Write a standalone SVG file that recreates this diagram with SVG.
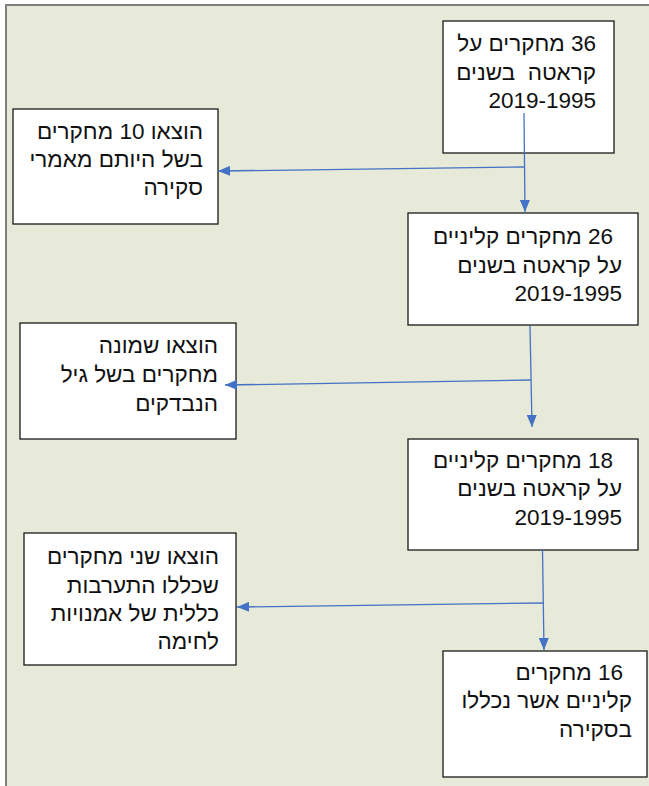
<svg xmlns="http://www.w3.org/2000/svg" width="649" height="786" viewBox="0 0 649 786">
<style>
.box{fill:#ffffff;stroke:#1a1a1a;stroke-width:1.3}
.t{font-family:"Liberation Sans",Arial,sans-serif;font-size:22.5px;fill:#111111;direction:rtl;text-anchor:start}
.c{stroke:#4472C4;stroke-width:1.3;fill:none}
</style>
<defs>
<marker id="ah" viewBox="0 0 12 10" refX="12" refY="5" markerWidth="12" markerHeight="10" markerUnits="userSpaceOnUse" orient="auto">
<path d="M0,0 L12,5 L0,10 Z" fill="#4472C4"/>
</marker>
</defs>
<rect x="0" y="0" width="649" height="786" fill="#ffffff"/>
<rect x="6" y="5" width="650" height="790" fill="#E7E9D9" stroke="#7f7f7f" stroke-width="2"/>

<g id="n1">
<rect class="box" x="443" y="21" width="171" height="132"/>
<text class="t" x="596" y="51">36 מחקרים על</text>
<text class="t" x="596" y="80" style="white-space:pre">קראטה  בשנים</text>
<text class="t" x="596" y="108">2019-1995</text>
</g>
<g id="n2">
<rect class="box" x="408" y="213" width="230" height="112"/>
<text class="t" x="613" y="244">26 מחקרים קליניים</text>
<text class="t" x="622" y="273">על קראטה בשנים</text>
<text class="t" x="622" y="301">2019-1995</text>
</g>
<g id="n3">
<rect class="box" x="13" y="109" width="205" height="115"/>
<text class="t" x="203" y="139">הוצאו 10 מחקרים</text>
<text class="t" x="203" y="167">בשל היותם מאמרי</text>
<text class="t" x="203" y="195">סקירה</text>
</g>
<g id="n4">
<rect class="box" x="20" y="323" width="216" height="116"/>
<text class="t" x="218" y="353">הוצאו שמונה</text>
<text class="t" x="218" y="382">מחקרים בשל גיל</text>
<text class="t" x="218" y="411">הנבדקים</text>
</g>
<g id="n5">
<rect class="box" x="408" y="439" width="230" height="111"/>
<text class="t" x="613" y="468">18 מחקרים קליניים</text>
<text class="t" x="622" y="496">על קראטה בשנים</text>
<text class="t" x="622" y="525">2019-1995</text>
</g>
<g id="n6">
<rect class="box" x="24" y="533" width="212" height="132"/>
<text class="t" x="219" y="564">הוצאו שני מחקרים</text>
<text class="t" x="219" y="593">שכללו התערבות</text>
<text class="t" x="219" y="621">כללית של אמנויות</text>
<text class="t" x="219" y="649">לחימה</text>
</g>
<g id="n7">
<rect class="box" x="443" y="651" width="204" height="126"/>
<text class="t" x="623" y="680">16 מחקרים</text>
<text class="t" x="632" y="708">קליניים אשר נכללו</text>
<text class="t" x="632" y="737">בסקירה</text>
</g>

<g id="connectors">
<path class="c" d="M524,113 L525,212" marker-end="url(#ah)"/>
<path class="c" d="M525,167 L218,171" marker-end="url(#ah)"/>
<path class="c" d="M530,326 L532,427" marker-end="url(#ah)"/>
<path class="c" d="M531,380 L225,385" marker-end="url(#ah)"/>
<path class="c" d="M542.5,550 L544,650" marker-end="url(#ah)"/>
<path class="c" d="M543,603 L237,607" marker-end="url(#ah)"/>
</g>
</svg>
